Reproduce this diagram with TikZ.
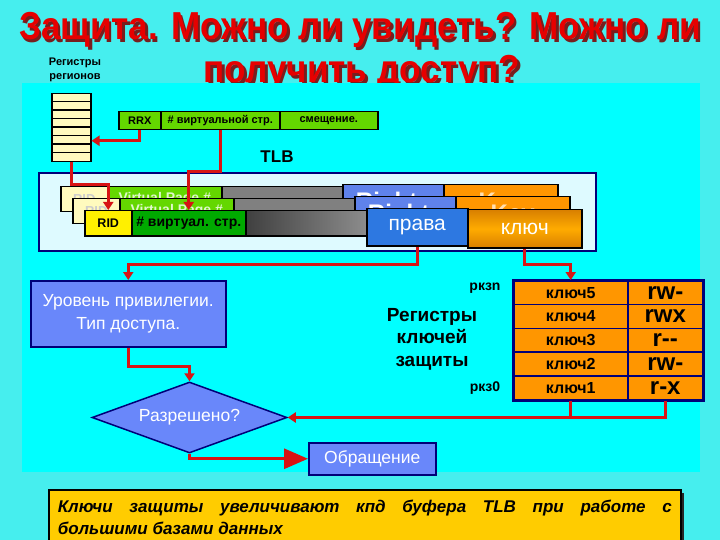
\documentclass[tikz,border=0pt]{standalone}
\usepackage{fontspec}
\setmainfont{Liberation Sans}
\usepackage{tikz}
\usetikzlibrary{arrows.meta,shapes.geometric,calc}

\definecolor{bgout}{RGB}{70,238,238}
\definecolor{bgin}{RGB}{0,255,255}
\definecolor{arrred}{RGB}{215,20,20}
\definecolor{navy}{RGB}{0,0,120}
\definecolor{boxblue}{RGB}{105,135,250}
\definecolor{tlbfill}{RGB}{222,250,255}
\definecolor{ridyel}{RGB}{255,240,0}
\definecolor{ridpale}{RGB}{255,250,190}
\definecolor{vpgreen}{RGB}{0,170,0}
\definecolor{vplight}{RGB}{100,215,0}
\definecolor{rtblue}{RGB}{45,120,225}
\definecolor{rtpale}{RGB}{95,130,235}
\definecolor{keyor}{RGB}{255,150,0}
\definecolor{notegold}{RGB}{255,204,0}
\definecolor{titlered}{RGB}{230,0,0}
\definecolor{titleshade}{RGB}{120,30,30}

\tikzset{
  cell/.style={draw=black,line width=1.5pt,inner sep=0pt,anchor=north west,minimum height=25pt},
  keycell/.style={draw=navy,line width=1.5pt,inner sep=0pt,anchor=north west,minimum height=23.8pt,fill=keyor,font=\fontsize{16}{18}\selectfont\bfseries},
  flowbox/.style={draw=navy,line width=1.5pt,fill=boxblue,inner sep=0pt,anchor=north west,text=white,align=center,font=\fontsize{17.5}{23}\selectfont},
  redline/.style={draw=arrred,line width=3pt},
  redarrow/.style={redline,-{Triangle[length=8pt,width=10pt]}},
  titletxt/.style={anchor=base,inner sep=0pt,font=\fontsize{39}{40}\selectfont\bfseries}
}

\begin{document}
\begin{tikzpicture}[x=1pt,y=-1pt]
\useasboundingbox (0,0) rectangle (720,540);
\clip (0,0) rectangle (720,540);
\fill[bgout] (0,0) rectangle (720,540);

\node[titletxt,text=titleshade] (title1s) at (362.5,42.5) {\scalebox{0.9}[1]{Защита. Можно ли увидеть? Можно ли}};
\node[titletxt,text=titlered] (title1) at (360,40) {\scalebox{0.9}[1]{Защита. Можно ли увидеть? Можно ли}};
\node[titletxt,text=titleshade] (title2s) at (364.5,85.5) {\scalebox{0.9}[1]{получить доступ?}};
\node[titletxt,text=titlered] (title2) at (362,83) {\scalebox{0.9}[1]{получить доступ?}};
\node[align=center,font=\fontsize{11}{14}\selectfont\bfseries] (reglabel) at (75,70) {Регистры\\регионов};

\fill[bgin] (22,83) rectangle (700,472);

% region registers and virtual address
\node[draw=black,line width=1.5pt,fill=ridpale,inner sep=0pt,anchor=north west,minimum width=39pt,minimum height=68pt] (regstack) at (51,93) {};
\foreach \i in {1,...,7}
  \draw[line width=1.5pt] ($(regstack.north west)+(0,8.5*\i)$) -- ($(regstack.north east)+(0,8.5*\i)$);
\node[cell,fill=vplight,minimum width=42pt,minimum height=18pt,font=\fontsize{11}{13}\selectfont\bfseries] (rrx) at (118,111) {RRX};
\node[cell,fill=vplight,minimum width=119pt,minimum height=18pt,font=\fontsize{11}{13}\selectfont\bfseries] (vpage) at (160,111) {\# виртуальной стр.};
\node[cell,fill=vplight,minimum width=98pt,minimum height=18pt,font=\fontsize{11}{13}\selectfont\bfseries] (offset) at (279,111) {смещение.};
\node[font=\fontsize{17}{19}\selectfont\bfseries] (tlblabel) at (277,157) {TLB};

% TLB
\node[draw=navy,line width=2pt,fill=tlbfill,anchor=north west,minimum width=557pt,minimum height=78pt] (tlb) at (38,172) {};

\node[cell,fill=ridpale,minimum width=47pt,text=black!20,font=\fontsize{13}{15}\selectfont\bfseries] (ridA) at (60,186) {RID};
\node[cell,fill=vplight,minimum width=114pt,text=white!80!vplight,font=\fontsize{14}{16}\selectfont\bfseries] (vpA) at (107,186) {Virtual Page \#};
\node[cell,fill=gray,minimum width=121pt] (grA) at (221,186) {};
\node[cell,fill=rtpale,minimum width=101pt,minimum height=37pt,text=white,font=\fontsize{24}{26}\selectfont\bfseries] (rtA) at (342,184) {Rights};
\node[cell,fill=keyor,minimum width=114pt,minimum height=37pt,text=white!70!keyor,font=\fontsize{24}{26}\selectfont\bfseries] (kyA) at (443,184) {Key};

\node[cell,fill=ridpale,minimum width=47pt,text=black!20,font=\fontsize{13}{15}\selectfont\bfseries] (ridB) at (72,198) {RID};
\node[cell,fill=vplight,minimum width=114pt,text=white!80!vplight,font=\fontsize{14}{16}\selectfont\bfseries] (vpB) at (119,198) {Virtual Page \#};
\node[cell,fill=gray,minimum width=121pt] (grB) at (233,198) {};
\node[cell,fill=rtpale,minimum width=101pt,minimum height=37pt,text=white,font=\fontsize{24}{26}\selectfont\bfseries] (rtB) at (354,196) {Rights};
\node[cell,fill=keyor,minimum width=114pt,minimum height=37pt,text=white!70!keyor,font=\fontsize{24}{26}\selectfont\bfseries] (kyB) at (455,196) {Key};

\node[cell,fill=ridyel,minimum width=47pt,font=\fontsize{12.5}{15}\selectfont\bfseries] (rid) at (84,210) {RID};
\node[cell,fill=vpgreen,minimum width=114pt,font=\fontsize{14}{16}\selectfont\bfseries] (vpn) at (131,210) {\# виртуал. стр.};
\node[cell,left color=black!75,right color=black!45,minimum width=121pt] (grey) at (245,210) {};
\node[cell,fill=rtblue,minimum width=101pt,minimum height=37pt,text=white,font=\fontsize{21}{23}\selectfont] (rights) at (366,208) {права};
\node[cell,top color=keyor!85!black,bottom color=keyor!85!black,middle color=keyor!80!yellow,minimum width=114pt,minimum height=38pt,text=white,font=\fontsize{21}{23}\selectfont] (key) at (467,209) {ключ};

% flow
\node[flowbox,minimum width=195pt,minimum height=66pt] (level) at (30,280) {Уровень привилегии.\\Тип доступа.};
\node[draw=navy,line width=1.5pt,fill=boxblue,diamond,aspect=2.75,inner sep=0pt,minimum width=195pt,minimum height=71pt,text=white,font=\fontsize{17.5}{20}\selectfont] (allowed) at (189.5,417.5) {Разрешено?};
\node[flowbox,minimum width=127pt,minimum height=32pt] (access) at (308,442) {Обращение};

% protection key registers
\node[keycell,minimum width=114pt] (k5) at (513,280) {ключ5};
\node[keycell,minimum width=75pt,font=\fontsize{24}{26}\selectfont\bfseries] (r5) at (627,280) {rw-};
\node[keycell,minimum width=114pt] (k4) at (513,303.8) {ключ4};
\node[keycell,minimum width=75pt,font=\fontsize{24}{26}\selectfont\bfseries] (r4) at (627,303.8) {rwx};
\node[keycell,minimum width=114pt] (k3) at (513,327.6) {ключ3};
\node[keycell,minimum width=75pt,font=\fontsize{24}{26}\selectfont\bfseries] (r3) at (627,327.6) {r-{}-};
\node[keycell,minimum width=114pt] (k2) at (513,351.4) {ключ2};
\node[keycell,minimum width=75pt,font=\fontsize{24}{26}\selectfont\bfseries] (r2) at (627,351.4) {rw-};
\node[keycell,minimum width=114pt] (k1) at (513,375.2) {ключ1};
\node[keycell,minimum width=75pt,font=\fontsize{24}{26}\selectfont\bfseries] (r1) at (627,375.2) {r-x};
\draw[navy,line width=2pt] (k5.north west) rectangle (r1.south east);
\node[font=\fontsize{14}{16}\selectfont\bfseries] (pkrn) at (485,288) {ркзn};
\node[font=\fontsize{14}{16}\selectfont\bfseries] (pkr0) at (485,388) {ркз0};
\node[align=center,font=\fontsize{19}{22.5}\selectfont\bfseries] (keylabel) at (432,339) {Регистры\\ключей\\защиты};

% connectors
\draw[redarrow] (rrx.south) |- ([yshift=-13pt]regstack.east);
\draw[redarrow] (vpage.south) -- ++(0,41) -| (vpn.north);
\draw[redarrow] (regstack.south) -- ++(0,22) -| (rid.north);
\draw[redarrow] (rights.south) -- ++(0,18) -| (level.north);
\draw[redarrow] (key.south) -- ++(0,16) -| (k5.north);
\draw[redarrow] (level.south) -- ++(0,19) -| (allowed.north);
\draw[redline,-{Triangle[length=24pt,width=20pt]}] (allowed.south) |- (access.west);
\draw[redline] (k1.south) -- (k1.south |- allowed.east);
\draw[redarrow] (r1.south) |- (allowed.east);

% note
\fill[black!85] (52,493) rectangle (684,545);
\node[draw=black,line width=1.5pt,fill=notegold,anchor=north west,inner xsep=9pt,inner ysep=0pt,text width=614pt,minimum height=56pt,align=justify,font=\fontsize{17}{22}\selectfont\bfseries\itshape] (note) at (48,489) {\hyphenpenalty=10000 Ключи защиты увеличивают кпд буфера TLB при работе с\linebreak большими базами данных};
\end{tikzpicture}
\end{document}
